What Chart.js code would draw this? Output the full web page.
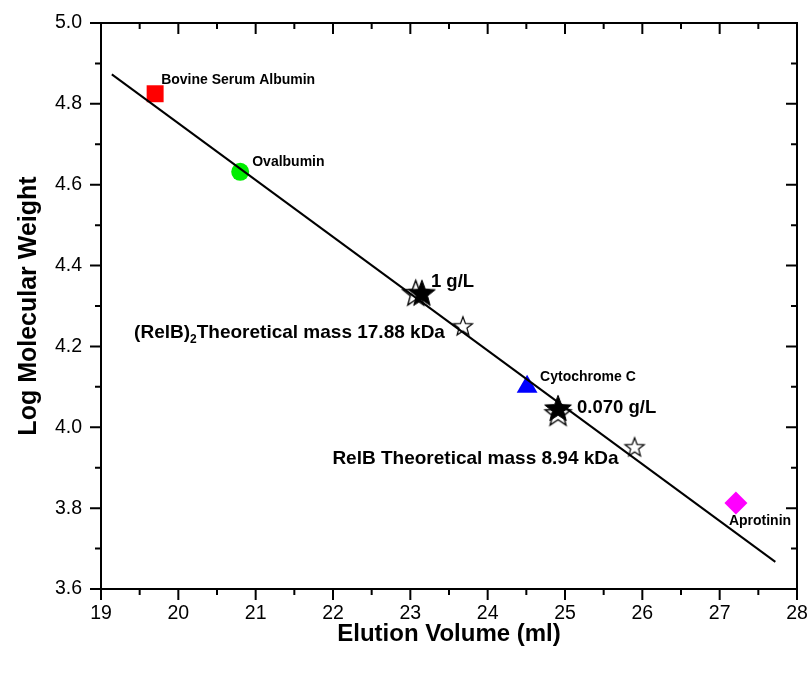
<!DOCTYPE html>
<html>
<head>
<meta charset="utf-8">
<script src="https://cdn.jsdelivr.net/npm/chart.js@4.4.0/dist/chart.umd.min.js"></script>
<style>
html, body { margin: 0; padding: 0; background: #fff; }
#wrap { width: 810px; height: 673px; }
</style>
</head>
<body>
<div id="wrap"><canvas id="chart"></canvas></div>
<script>
// ===== データ =====
var xTicks = [19, 20, 21, 22, 23, 24, 25, 26, 27, 28];
var yTicks = [3.6, 3.8, 4.0, 4.2, 4.4, 4.6, 4.8, 5.0];

// 検量線（直線）
var fitX = [19.14, 27.72];
var fitY = [4.873, 3.667];

// 標準タンパク質
var standardNames = ["Bovine Serum Albumin", "Ovalbumin", "Cytochrome C", "Aprotinin"];
var standardX = [19.70, 20.80, 24.51, 27.21];
var standardY = [4.825, 4.632, 4.100, 3.813];

// サンプル（濃度）
var sampleNames = ["1 g/L", "0.070 g/L"];
var sampleX = [23.15, 24.91];
var sampleY = [4.333, 4.048];
var sampleOpenX = [23.07, 24.91];
var sampleOpenY = [4.333, 4.036];

// 理論値
var theoryNames = ["(RelB)|2|Theoretical mass 17.88 kDa", "RelB Theoretical mass 8.94 kDa"];
var theoryX = [23.68, 25.90];
var theoryY = [4.251, 3.952];

var FONT = "'Liberation Sans', Arial, sans-serif";

// ===== 星マーカー =====
function makeStar(R, fill, stroke, lw) {
    var c = document.createElement("canvas");
    var s = Math.ceil(R * 2 + 4);
    c.width = s; c.height = s;
    var g = c.getContext("2d");
    var r = R * 0.42;
    g.beginPath();
    for (var i = 0; i < 10; i++) {
        var rr = (i % 2 === 0) ? R : r;
        var a = -Math.PI / 2 + i * Math.PI / 5;
        var px = s / 2 + rr * Math.cos(a);
        var py = s / 2 + rr * Math.sin(a) + R * 0.1;
        if (i === 0) g.moveTo(px, py); else g.lineTo(px, py);
    }
    g.closePath();
    g.fillStyle = fill;
    g.fill();
    g.lineWidth = lw;
    g.strokeStyle = stroke;
    g.stroke();
    return c;
}
var starFilled = makeStar(14, "#000", "#000", 1);
var starOpenBig = makeStar(13.5, "#fff", "#000", 1.4);
var starOpenSmall = makeStar(10, "#fff", "#000", 1.2);

function pts(xs, ys) {
    return xs.map(function (v, i) { return { x: v, y: ys[i] }; });
}
function pt(xs, ys, i) {
    return [{ x: xs[i], y: ys[i] }];
}

// ===== ラベル =====
var pointLabels = [
    { text: standardNames[0], x: standardX[0], y: standardY[0], dx: 6, dy: -14, size: 14 },
    { text: standardNames[1], x: standardX[1], y: standardY[1], dx: 12, dy: -10, size: 14 },
    { text: standardNames[2], x: standardX[2], y: standardY[2], dx: 13, dy: -10, size: 14 },
    { text: standardNames[3], x: standardX[3], y: standardY[3], dx: -7, dy: 18, size: 14 },
    { text: sampleNames[0], x: sampleX[0], y: sampleY[0], dx: 9, dy: -11, size: 18.5 },
    { text: sampleNames[1], x: sampleX[1], y: sampleY[1], dx: 19, dy: 0, size: 18.5 },
    { text: theoryNames[0], x: theoryX[0], y: theoryY[0], dx: -18, dy: 7, size: 19, right: true },
    { text: theoryNames[1], x: theoryX[1], y: theoryY[1], dx: -16, dy: 12, size: 19, right: true }
];

var labelPlugin = {
    id: "pointLabels",
    afterDraw: function (chart) {
        var ctx = chart.ctx, xs = chart.scales.x, ys = chart.scales.y;
        ctx.save();
        ctx.fillStyle = "#000";
        ctx.textBaseline = "middle";
        pointLabels.forEach(function (l) {
            var px = xs.getPixelForValue(l.x) + l.dx;
            var py = ys.getPixelForValue(l.y) + l.dy;
            var parts = l.text.split("|");
            var main = "bold " + l.size + "px " + FONT;
            var sub = "bold " + Math.round(l.size * 0.62) + "px " + FONT;
            var w = 0;
            parts.forEach(function (p, i) {
                ctx.font = (i === 1) ? sub : main;
                w += ctx.measureText(p).width;
            });
            var cx = l.right ? px - w : px;
            parts.forEach(function (p, i) {
                ctx.font = (i === 1) ? sub : main;
                ctx.textAlign = "left";
                ctx.fillText(p, cx, (i === 1) ? py + l.size * 0.38 : py);
                cx += ctx.measureText(p).width;
            });
        });
        ctx.restore();
    }
};

// 枠と目盛り（Origin風：下・左は外向き、上・右は内向き）
var framePlugin = {
    id: "frame",
    afterDraw: function (chart) {
        var ctx = chart.ctx, a = chart.chartArea;
        var xs = chart.scales.x, ys = chart.scales.y;
        var major = 11, minor = 6;
        ctx.save();
        ctx.strokeStyle = "#000";
        ctx.lineWidth = 2;
        ctx.beginPath();
        ctx.rect(a.left, a.top, a.right - a.left, a.bottom - a.top);
        ctx.stroke();
        ctx.beginPath();
        xTicks.forEach(function (v, i) {
            var p = xs.getPixelForValue(v);
            ctx.moveTo(p, a.bottom); ctx.lineTo(p, a.bottom + major);
            ctx.moveTo(p, a.top); ctx.lineTo(p, a.top + major);
            if (i < xTicks.length - 1) {
                var m = xs.getPixelForValue((v + xTicks[i + 1]) / 2);
                ctx.moveTo(m, a.bottom); ctx.lineTo(m, a.bottom + minor);
                ctx.moveTo(m, a.top); ctx.lineTo(m, a.top + minor);
            }
        });
        yTicks.forEach(function (v, i) {
            var p = ys.getPixelForValue(v);
            ctx.moveTo(a.left, p); ctx.lineTo(a.left - major, p);
            ctx.moveTo(a.right, p); ctx.lineTo(a.right - major, p);
            if (i < yTicks.length - 1) {
                var m = ys.getPixelForValue((v + yTicks[i + 1]) / 2);
                ctx.moveTo(a.left, m); ctx.lineTo(a.left - minor, m);
                ctx.moveTo(a.right, m); ctx.lineTo(a.right - minor, m);
            }
        });
        ctx.stroke();
        ctx.restore();
    }
};

new Chart(document.getElementById("chart"), {
    type: "scatter",
    data: {
        datasets: [
            // 先頭のデータセットが最前面に描かれる
            { type: "line", data: pts(fitX, fitY), borderColor: "#000", borderWidth: 2, pointRadius: 0, fill: false, tension: 0 },
            { data: pt(sampleX, sampleY, 0), pointStyle: starFilled },
            { data: pt(sampleX, sampleY, 1), pointStyle: starFilled },
            { data: pt(sampleOpenX, sampleOpenY, 0), pointStyle: starOpenBig },
            { data: pt(sampleOpenX, sampleOpenY, 1), pointStyle: starOpenBig },
            { data: pts(theoryX, theoryY), pointStyle: starOpenSmall },
            { data: pt(standardX, standardY, 0), pointStyle: "rect", pointRadius: 12, backgroundColor: "#ff0000", borderColor: "#ff0000", borderWidth: 0 },
            { data: pt(standardX, standardY, 1), pointStyle: "circle", pointRadius: 9, backgroundColor: "#00ee00", borderColor: "#00ee00", borderWidth: 0 },
            { data: pt(standardX, standardY, 2), pointStyle: "triangle", pointRadius: 12, backgroundColor: "#0000ff", borderColor: "#0000ff", borderWidth: 0 },
            { data: pt(standardX, standardY, 3), pointStyle: "rectRot", pointRadius: 11.5, backgroundColor: "#ff00ff", borderColor: "#ff00ff", borderWidth: 0 }
        ]
    },
    options: {
        responsive: true,
        maintainAspectRatio: false,
        animation: false,
        layout: { padding: { left: 0, right: 13, top: 23, bottom: 0 } },
        plugins: {
            legend: { display: false },
            tooltip: { enabled: false }
        },
        scales: {
            x: {
                type: "linear",
                min: 19, max: 28,
                afterBuildTicks: function (s) { s.ticks = xTicks.map(function (v) { return { value: v }; }); },
                afterFit: function (s) { s.height = 84; },
                grid: { display: false, drawTicks: true, tickLength: 11 },
                border: { display: false },
                ticks: { color: "#000", padding: 2, font: { family: FONT, size: 19.5 }, maxRotation: 0 },
                title: { display: true, text: "Elution Volume (ml)", color: "#000", font: { family: FONT, size: 24, weight: "bold" }, padding: { top: 0, bottom: 24 } }
            },
            y: {
                type: "linear",
                min: 3.6, max: 5.0,
                afterBuildTicks: function (s) { s.ticks = yTicks.map(function (v) { return { value: v }; }); },
                afterFit: function (s) { s.width = 101; },
                grid: { display: false, drawTicks: true, tickLength: 11 },
                border: { display: false },
                ticks: { color: "#000", padding: 8, font: { family: FONT, size: 19.5 }, callback: function (v) { return v.toFixed(1); } },
                title: { display: true, text: "Log Molecular Weight", color: "#000", font: { family: FONT, size: 25, weight: "bold" }, padding: { top: 14, bottom: 0 } }
            }
        }
    },
    plugins: [framePlugin, labelPlugin]
});
</script>
</body>
</html>
